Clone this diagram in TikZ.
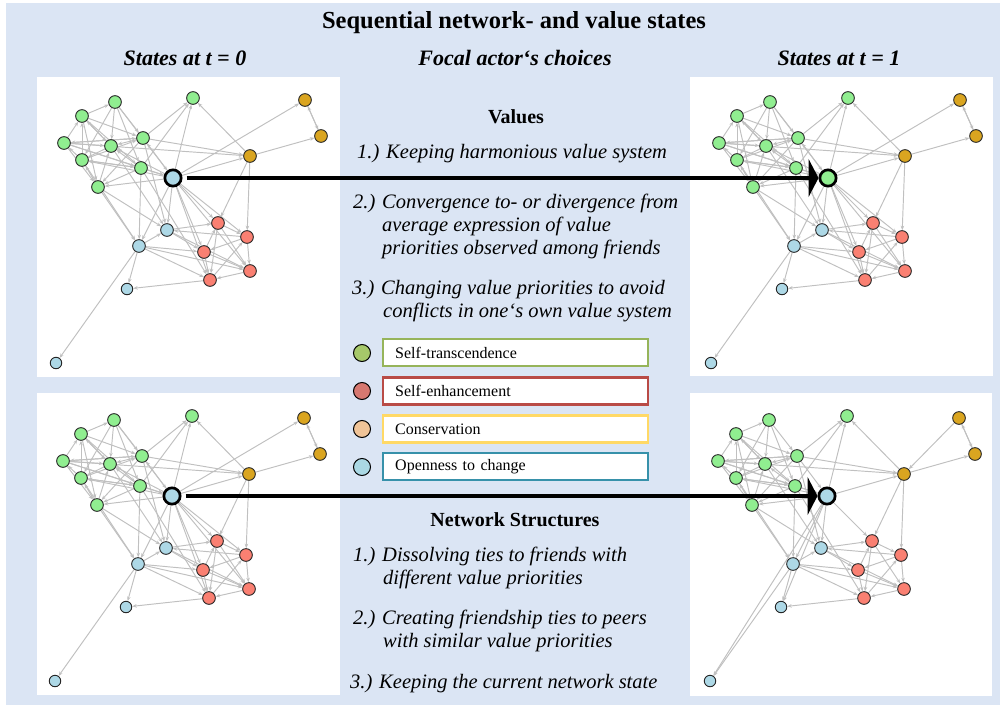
\documentclass[tikz,border=0pt]{standalone}
\usepackage{fontspec}
\setmainfont{Liberation Serif}
\usetikzlibrary{arrows.meta}
\pgfdeclarelayer{back}
\pgfdeclarelayer{edges}
\pgfsetlayers{back,edges,main}
\definecolor{bgblue}{RGB}{219,229,244}
\definecolor{ngreen}{RGB}{144,238,144}
\definecolor{norange}{RGB}{218,165,32}
\definecolor{nred}{RGB}{250,128,114}
\definecolor{nblue}{RGB}{173,216,230}
\definecolor{legG}{RGB}{166,200,106}
\definecolor{legR}{RGB}{214,120,112}
\definecolor{legO}{RGB}{240,196,152}
\definecolor{legB}{RGB}{170,216,228}
\definecolor{boxG}{RGB}{150,180,90}
\definecolor{boxR}{RGB}{185,75,70}
\definecolor{boxO}{RGB}{255,217,102}
\definecolor{boxB}{RGB}{55,145,170}
\definecolor{edgegray}{RGB}{192,192,192}
\tikzset{
  nd/.style={circle, draw=black!85, line width=0.9pt, inner sep=0pt, minimum size=12.7pt},
  gn/.style={nd, fill=ngreen},
  on/.style={nd, fill=norange},
  rn/.style={nd, fill=nred},
  bn/.style={nd, fill=nblue},
  bsn/.style={nd, fill=nblue, minimum size=11.5pt},
  focal/.style={circle, draw=black, line width=2.7pt, inner sep=0pt, minimum size=16.3pt},
  edge/.style={draw=edgegray, line width=0.95pt, -{Stealth[length=4.5pt,width=3.5pt]}},
  panel/.style={fill=white},
  bigarrow/.style={line width=4pt, -{Triangle[length=10pt,width=38pt]}, shorten <=4pt},
  hdr/.style={font=\bfseries\itshape\fontsize{22}{26}\selectfont, anchor=base, inner sep=0pt},
  sect/.style={font=\bfseries\fontsize{20}{24}\selectfont, anchor=base, inner sep=0pt},
  item/.style={font=\itshape\fontsize{20.5}{23}\selectfont, anchor=base west, inner sep=0pt},
  legdot/.style={circle, draw=black, line width=1pt, inner sep=0pt, minimum size=17pt},
  legbox/.style={draw, fill=white, line width=2.4pt, anchor=west, minimum width=265pt, minimum height=27pt,
     text width=241pt, inner xsep=11pt, align=left, font=\fontsize{16}{18}\selectfont}
}
\newcommand\netnodes[1]{%
  \node[gn] (G1) at (78,25) {};
  \node[gn] (G2) at (156,21) {};
  \node[gn] (G3) at (45,39) {};
  \node[gn] (G4) at (27,66) {};
  \node[gn] (G5) at (74,69) {};
  \node[gn] (G6) at (106,61) {};
  \node[gn] (G7) at (45,83) {};
  \node[gn] (G8) at (104,91) {};
  \node[gn] (G9) at (61,110) {};
  \node[on] (O1) at (268,23) {};
  \node[on] (O2) at (284,59) {};
  \node[on] (O3) at (213,79) {};
  \node[bn] (B1) at (130,153) {};
  \node[bn] (B2) at (102,169) {};
  \node[bsn] (B3) at (90,212) {};
  \node[bsn] (B4) at (19,286) {};
  \node[rn] (R1) at (181,146) {};
  \node[rn] (R2) at (210,160) {};
  \node[rn] (R3) at (167,175) {};
  \node[rn] (R4) at (213,194) {};
  \node[rn] (R5) at (173,203) {};
  \node[focal, fill=#1] (F) at (136,101) {};
}
\newcommand\commonedges{%
  \foreach \a/\b in {G3/G1, G4/G3, G3/G5, G3/G6, G3/G8, G7/G3, G1/G5, G1/G6, G4/G5, G4/G6,
    G4/G8, G7/G4, G5/G7, G6/G5, G8/G5, G7/G8, G7/G6, G9/G7, G9/G5, G8/G9, G6/G9, G1/G8,
    G1/G7, G3/G9, G4/G9, G6/G2, G8/G2, O3/G2, O2/O1, O1/O2, O3/O2, G6/O3, G4/O3, O3/R2,
    O3/R1, B2/B1, B1/R1, R2/B1, B1/R3, B1/R4, B2/R3, B2/R4, B2/R5, B2/B3, B2/B4, R5/B3,
    G9/B2, G7/B2, G8/B2, G5/B1, G9/B1, G6/B1, G8/R5, R1/R2, R3/R1, R1/R5, R2/R3, R2/R4,
    R3/R5, R3/R4, R5/R2, R1/R4, R4/R5, G5/G3, G6/G4, G8/G7}
    {\draw[edge] (\a) -- (\b);}%
}
\newcommand\fulledges{%
  \foreach \a/\b in {F/G6, G8/F, F/G5, F/G9, F/G7, G4/F, F/B1, F/B2, F/R1, F/R2, F/R3,
    F/R5, F/R4, F/G2, F/O1, F/O3, G1/F}
    {\draw[edge] (\a) -- (\b);}%
}
\newcommand\reducededges{%
  \foreach \a/\b in {G8/F, F/G9, F/G7, G6/F, F/O3, F/B1, F/B2, F/B3, F/B4, F/R1, F/G2,
    G4/F, O1/O3}
    {\draw[edge] (\a) -- (\b);}%
}
\begin{document}
\begin{tikzpicture}[x=1pt,y=-1pt]
\useasboundingbox (0,0) rectangle (1007,707);
\begin{pgfonlayer}{back}
  \fill[white] (0,0) rectangle (1007,707);
  \fill[bgblue] (6,3) rectangle (1000,705);
  \fill[panel] (37,77) rectangle (340,377);
  \fill[panel] (690,77) rectangle (993,376);
  \fill[panel] (37,393) rectangle (340,695);
  \fill[panel] (690,393) rectangle (992,696);
\end{pgfonlayer}

% panels
\begin{scope}[shift={(37,77)}, name prefix=tl-]
  \netnodes{nblue}
  \begin{pgfonlayer}{edges}\commonedges\fulledges\end{pgfonlayer}
\end{scope}
\begin{scope}[shift={(692,77)}, name prefix=tr-]
  \netnodes{ngreen}
  \begin{pgfonlayer}{edges}\commonedges\fulledges\end{pgfonlayer}
\end{scope}
\begin{scope}[shift={(36,395)}, name prefix=bl-]
  \netnodes{nblue}
  \begin{pgfonlayer}{edges}\commonedges\fulledges\end{pgfonlayer}
\end{scope}
\begin{scope}[shift={(691,395)}, name prefix=br-]
  \netnodes{nblue}
  \begin{pgfonlayer}{edges}\commonedges\reducededges\end{pgfonlayer}
\end{scope}

% arrows
\draw[bigarrow] (tl-F) -- (tr-F);
\draw[bigarrow] (bl-F) -- (br-F);

% titles
\node[font=\bfseries\fontsize{24.5}{28}\selectfont, anchor=base, inner sep=0pt] (title) at (514,28) {Sequential network- and value states};
\node[hdr] (h0) at (185,65) {States at t = 0};
\node[hdr] (hc) at (515,65) {Focal actor‘s choices};
\node[hdr] (h1) at (839,65) {States at t = 1};

% values
\node[sect] (vals) at (516,123) {Values};
\node[item] (v1) at (357,158) {1.) Keeping harmonious value system};
\node[item] (v2a) at (353,208) {2.) Convergence to- or divergence from};
\node[item] (v2b) at (382,231) {average expression of value};
\node[item] (v2c) at (382,254) {priorities observed among friends};
\node[item] (v3a) at (352,294) {3.) Changing value priorities to avoid};
\node[item] (v3b) at (383,317) {conflicts in one‘s own value system};

% legend
\node[legdot, fill=legG] (d1) at (362,353) {};
\node[legdot, fill=legR] (d2) at (362,391) {};
\node[legdot, fill=legO] (d3) at (362,429) {};
\node[legdot, fill=legB] (d4) at (362,467) {};
\node[legbox, draw=boxG] (l1) at (382,352.5) {Self-transcendence};
\node[legbox, draw=boxR] (l2) at (382,391) {Self-enhancement};
\node[legbox, draw=boxO] (l3) at (382,429) {Conservation};
\node[legbox, draw=boxB] (l4) at (382,466.5) {Openness to change};

% network structures
\node[sect] (nets) at (515,526) {Network Structures};
\node[item] (n1a) at (353,561) {1.) Dissolving ties to friends with};
\node[item] (n1b) at (383,584) {different value priorities};
\node[item] (n2a) at (353,624) {2.) Creating friendship ties to peers};
\node[item] (n2b) at (383,647) {with similar value priorities};
\node[item] (n3) at (350,688) {3.) Keeping the current network state};
\end{tikzpicture}
\end{document}
